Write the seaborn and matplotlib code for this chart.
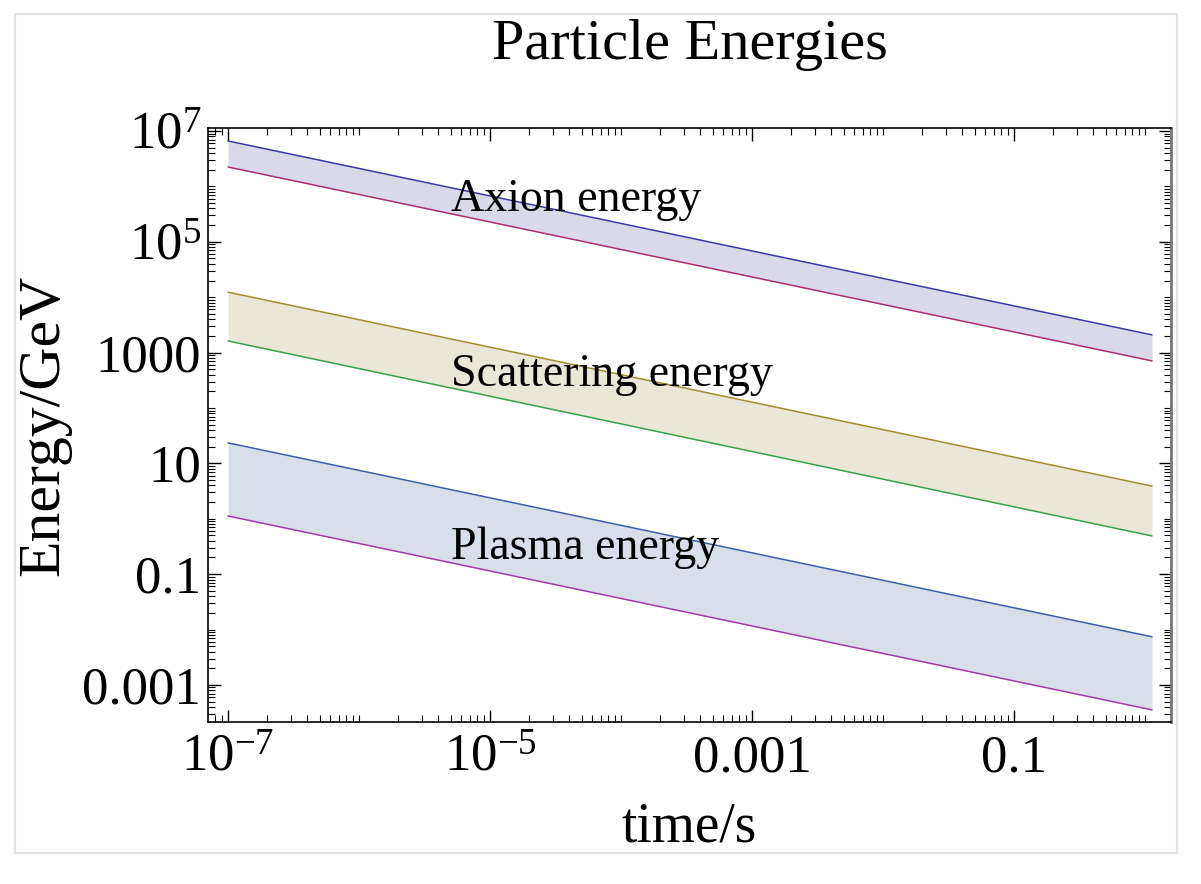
import numpy as np
import pandas as pd
import matplotlib
matplotlib.use('Agg')
import matplotlib.pyplot as plt
import matplotlib.ticker as mticker
from matplotlib.patches import Rectangle
import seaborn as sns

sns.set_style('ticks')
plt.rcParams['font.family'] = ['Liberation Serif', 'DejaVu Serif']
plt.rcParams['mathtext.fontset'] = 'custom'
plt.rcParams['mathtext.rm'] = 'Liberation Serif'
plt.rcParams['mathtext.it'] = 'Liberation Serif:italic'
plt.rcParams['text.color'] = 'black'
plt.rcParams['axes.labelcolor'] = 'black'
plt.rcParams['xtick.color'] = 'black'
plt.rcParams['ytick.color'] = 'black'
plt.rcParams['axes.edgecolor'] = 'black'

# time endpoints (s); bands are straight lines on log-log axes
time = [1e-7, 1.13]
bands = ['Axion energy', 'Scattering energy', 'Plasma energy']
# log10(E/GeV) at the two time endpoints
upper_log = [[6.82, 3.32], [4.09, 0.59], [1.37, -2.13]]
lower_log = [[6.35, 2.85], [3.21, -0.31], [0.05, -3.45]]
label_x = [5.0e-6, 5.0e-6, 5.0e-6]
label_log_y = [5.76, 2.60, -0.53]

upper_colors = ['#3a3aa6', '#a08c2e', '#3d5ea8']
lower_colors = ['#a8306e', '#3aa04a', '#a03ca8']
fill_colors = ['#d9d9ea', '#ebe7d7', '#d8dfeb']

rows = []
for i, b in enumerate(bands):
    for t, u in zip(time, upper_log[i]):
        rows.append({'time': t, 'E': 10 ** u, 'line': f'{b} upper'})
    for t, l in zip(time, lower_log[i]):
        rows.append({'time': t, 'E': 10 ** l, 'line': f'{b} lower'})
df = pd.DataFrame(rows)

palette = {}
for i, b in enumerate(bands):
    palette[f'{b} upper'] = upper_colors[i]
    palette[f'{b} lower'] = lower_colors[i]

fig = plt.figure(figsize=(12.01, 8.84), dpi=100)
ax = fig.add_axes([0.1732, 0.1833, 0.8018, 0.6719])
ax.set_xscale('log')
ax.set_yscale('log')

for i, b in enumerate(bands):
    ax.fill_between(time, [10 ** v for v in lower_log[i]], [10 ** v for v in upper_log[i]],
                    color=fill_colors[i], lw=0, zorder=1)

sns.lineplot(data=df, x='time', y='E', hue='line', palette=palette, ax=ax,
             legend=False, lw=1.1, zorder=2)

for i, b in enumerate(bands):
    ax.text(label_x[i], 10 ** label_log_y[i], b, fontsize=33, va='center', ha='left', zorder=3)

ax.set_xlim(10 ** -7.153, 10 ** 0.198)
ax.set_ylim(10 ** -3.668, 10 ** 7.054)

xt = [1e-7, 1e-5, 1e-3, 1e-1]
xl = [r'$10^{-7}$', r'$10^{-5}$', '0.001', '0.1']
yt = [1e-3, 1e-1, 1e1, 1e3, 1e5, 1e7]
yl = ['0.001', '0.1', '10', '1000', r'$10^{5}$', r'$10^{7}$']
ax.set_xticks(xt)
ax.set_xticklabels(xl)
ax.set_yticks(yt)
ax.set_yticklabels(yl)
ax.xaxis.set_minor_locator(mticker.LogLocator(base=10, subs=np.arange(1, 10), numticks=50))
ax.yaxis.set_minor_locator(mticker.LogLocator(base=10, subs=np.arange(1, 10), numticks=50))
ax.xaxis.set_minor_formatter(mticker.NullFormatter())
ax.yaxis.set_minor_formatter(mticker.NullFormatter())
ax.tick_params(which='both', direction='in', top=True, right=True, labelsize=38)
ax.tick_params(axis='y', pad=5)
ax.tick_params(axis='x', pad=9)
ax.tick_params(which='major', length=9, width=1)
ax.tick_params(which='minor', length=5, width=0.8)
for s in ax.spines.values():
    s.set_linewidth(1.2)
ax.spines['right'].set_color('#777777')
ax.spines['right'].set_linewidth(2)

ax.set_xlabel('time/s', fontsize=40, labelpad=14)
ax.set_ylabel('Energy/GeV', fontsize=43, labelpad=8)
ax.set_title('Particle Energies', fontsize=42, pad=50)

fig.patches.append(Rectangle((15 / 1201, 1 - 853 / 884), 1162 / 1201, 839 / 884,
                             transform=fig.transFigure, fill=False,
                             edgecolor='#e2e2e2', lw=1.5))

fig.savefig('out.png', dpi=100)
